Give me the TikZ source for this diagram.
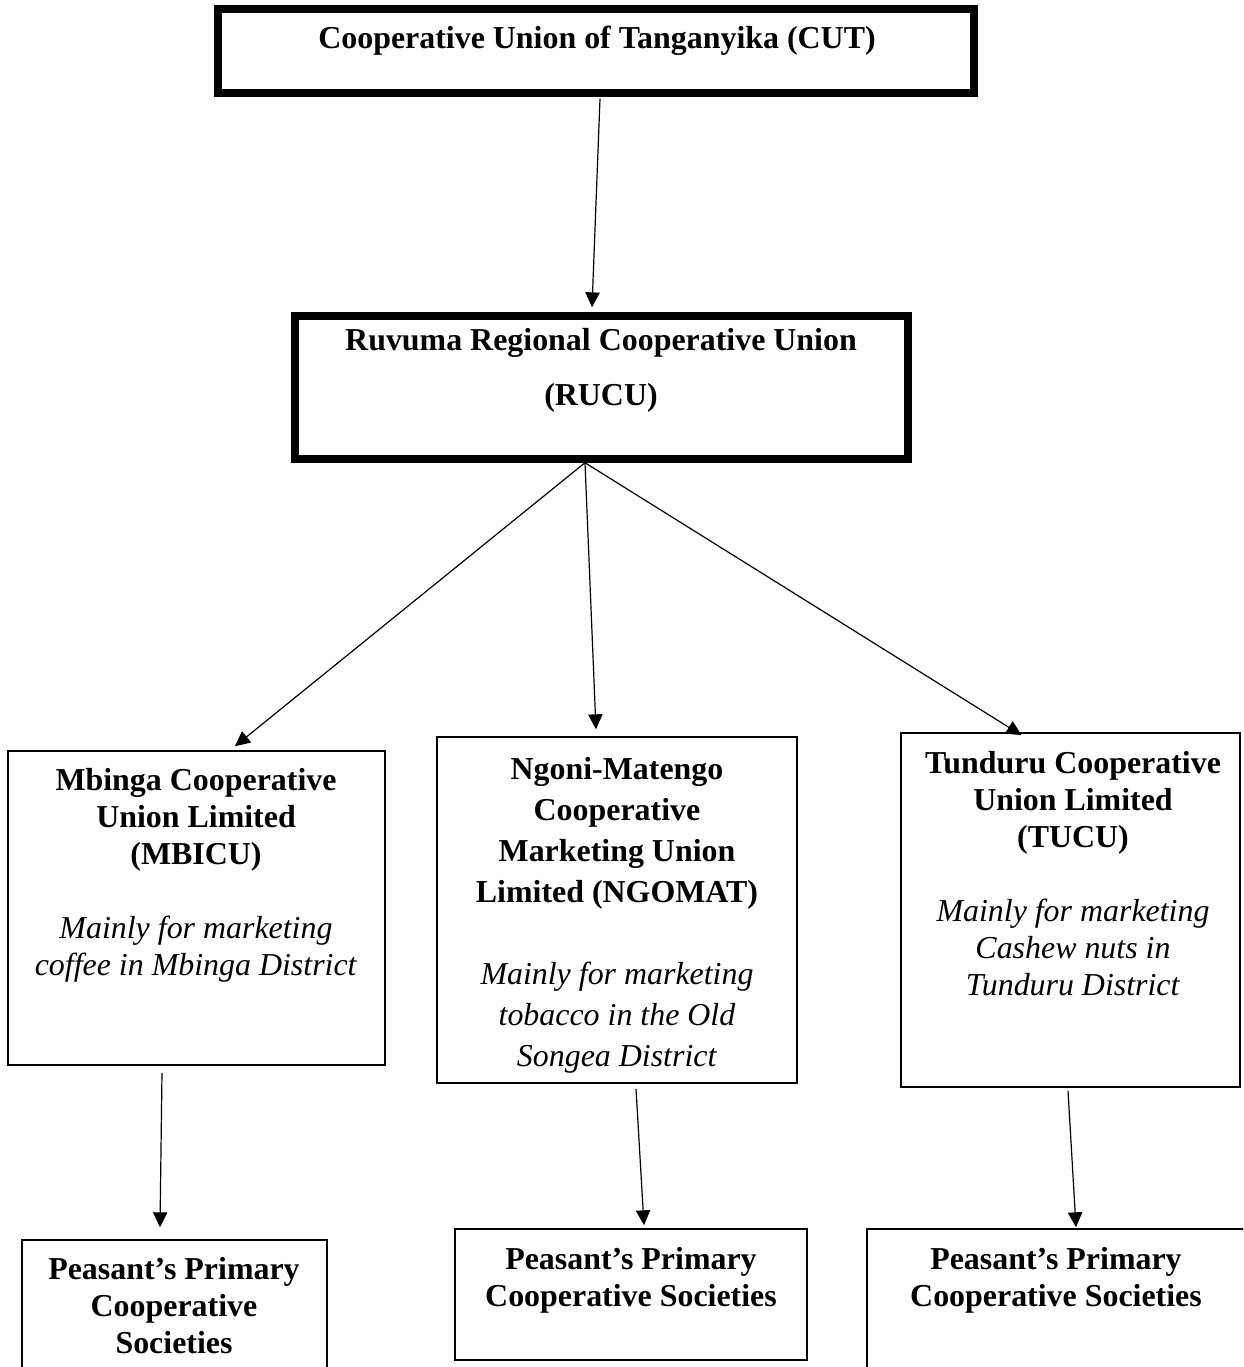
\documentclass[tikz,border=0pt]{standalone}
\usepackage{fontspec}
\setmainfont{Liberation Serif}
\usetikzlibrary{arrows.meta,fit,calc}

\newcommand{\aimline}[1]{\textnormal{\textit{#1}}}

\begin{document}
\begin{tikzpicture}[x=0.376pt, y=-0.376pt,
  headbox/.style={draw, line width=2.8pt, inner sep=0},
  unitbox/.style={draw, line width=0.6pt, inner sep=0},
  boxtext/.style={font=\fontsize{12}{13.9}\selectfont\bfseries, align=center, inner sep=0, anchor=north},
  link/.style={-{Triangle[length=5.6pt,width=5.4pt]}, line width=0.45pt}]
\useasboundingbox (0,0) rectangle (1243,1367);
\clip (0,0) rectangle (1243,1367);
%boxes
\node[headbox, fit={(218,9) (974,93)}] (cut) {};
\node[headbox, fit={(295,316) (908,459)}] (rucu) {};
\node[unitbox, fit={(8,751) (385,1065)}] (mbicu) {};
\node[unitbox, fit={(437,737) (797,1083)}] (ngomat) {};
\node[unitbox, fit={(901,733) (1240,1087)}] (tucu) {};
\node[unitbox, fit={(22,1240) (327,1400)}] (ppcs1) {};
\node[unitbox, fit={(455,1229) (807,1360)}] (ppcs2) {};
\node[unitbox, fit={(867,1229) (1260,1400)}] (ppcs3) {};
%texts
\node[boxtext] (cutname) at (597,25) {Cooperative Union of Tanganyika (CUT)};
\node[boxtext, font=\fontsize{12}{20.7}\selectfont\bfseries] (rucuname) at (601,328) {Ruvuma Regional Cooperative Union\\(RUCU)};
\node[boxtext] (mbicuname) at (196,768) {Mbinga Cooperative\\Union Limited\\(MBICU)\\[13.9pt]
  \aimline{Mainly for marketing}\\\aimline{coffee in Mbinga District}};
\node[boxtext, font=\fontsize{12}{15.4}\selectfont\bfseries] (ngomatname) at (617,757) {Ngoni-Matengo\\Cooperative\\Marketing Union\\Limited (NGOMAT)\\[15.4pt]
  \aimline{Mainly for marketing}\\\aimline{tobacco in the Old}\\\aimline{Songea District}};
\node[boxtext] (tucuname) at (1073,751) {Tunduru Cooperative\\Union Limited\\(TUCU)\\[13.9pt]
  \aimline{Mainly for marketing}\\\aimline{Cashew nuts in}\\\aimline{Tunduru District}};
\node[boxtext] (ppcs1name) at (174,1257) {Peasant’s Primary\\Cooperative\\Societies};
\node[boxtext] (ppcs2name) at (631,1247) {Peasant’s Primary\\Cooperative Societies};
\node[boxtext] (ppcs3name) at (1056,1247) {Peasant’s Primary\\Cooperative Societies};
%links
\draw[link] ($(cut.south)+(4,2)$) -- ($(rucu.north)+(-9.5,-5)$);
\draw[link] ($(rucu.south)+(-16.5,0)$) -- ($(mbicu.north)+(38.5,-4)$);
\draw[link] ($(rucu.south)+(-16.5,0)$) -- ($(ngomat.north)+(-21,-7)$);
\draw[link] ($(rucu.south)+(-16.5,0)$) -- ($(tucu.north)+(-49,3)$);
\draw[link] ($(mbicu.south)+(-34.5,7)$) -- ($(ppcs1.north)+(-14.5,-12)$);
\draw[link] ($(ngomat.south)+(19,5)$) -- ($(ppcs2.north)+(13,-3)$);
\draw[link] ($(tucu.south)+(-2.5,3)$) -- ($(ppcs3.north)+(12.5,-1)$);
\end{tikzpicture}
\end{document}
